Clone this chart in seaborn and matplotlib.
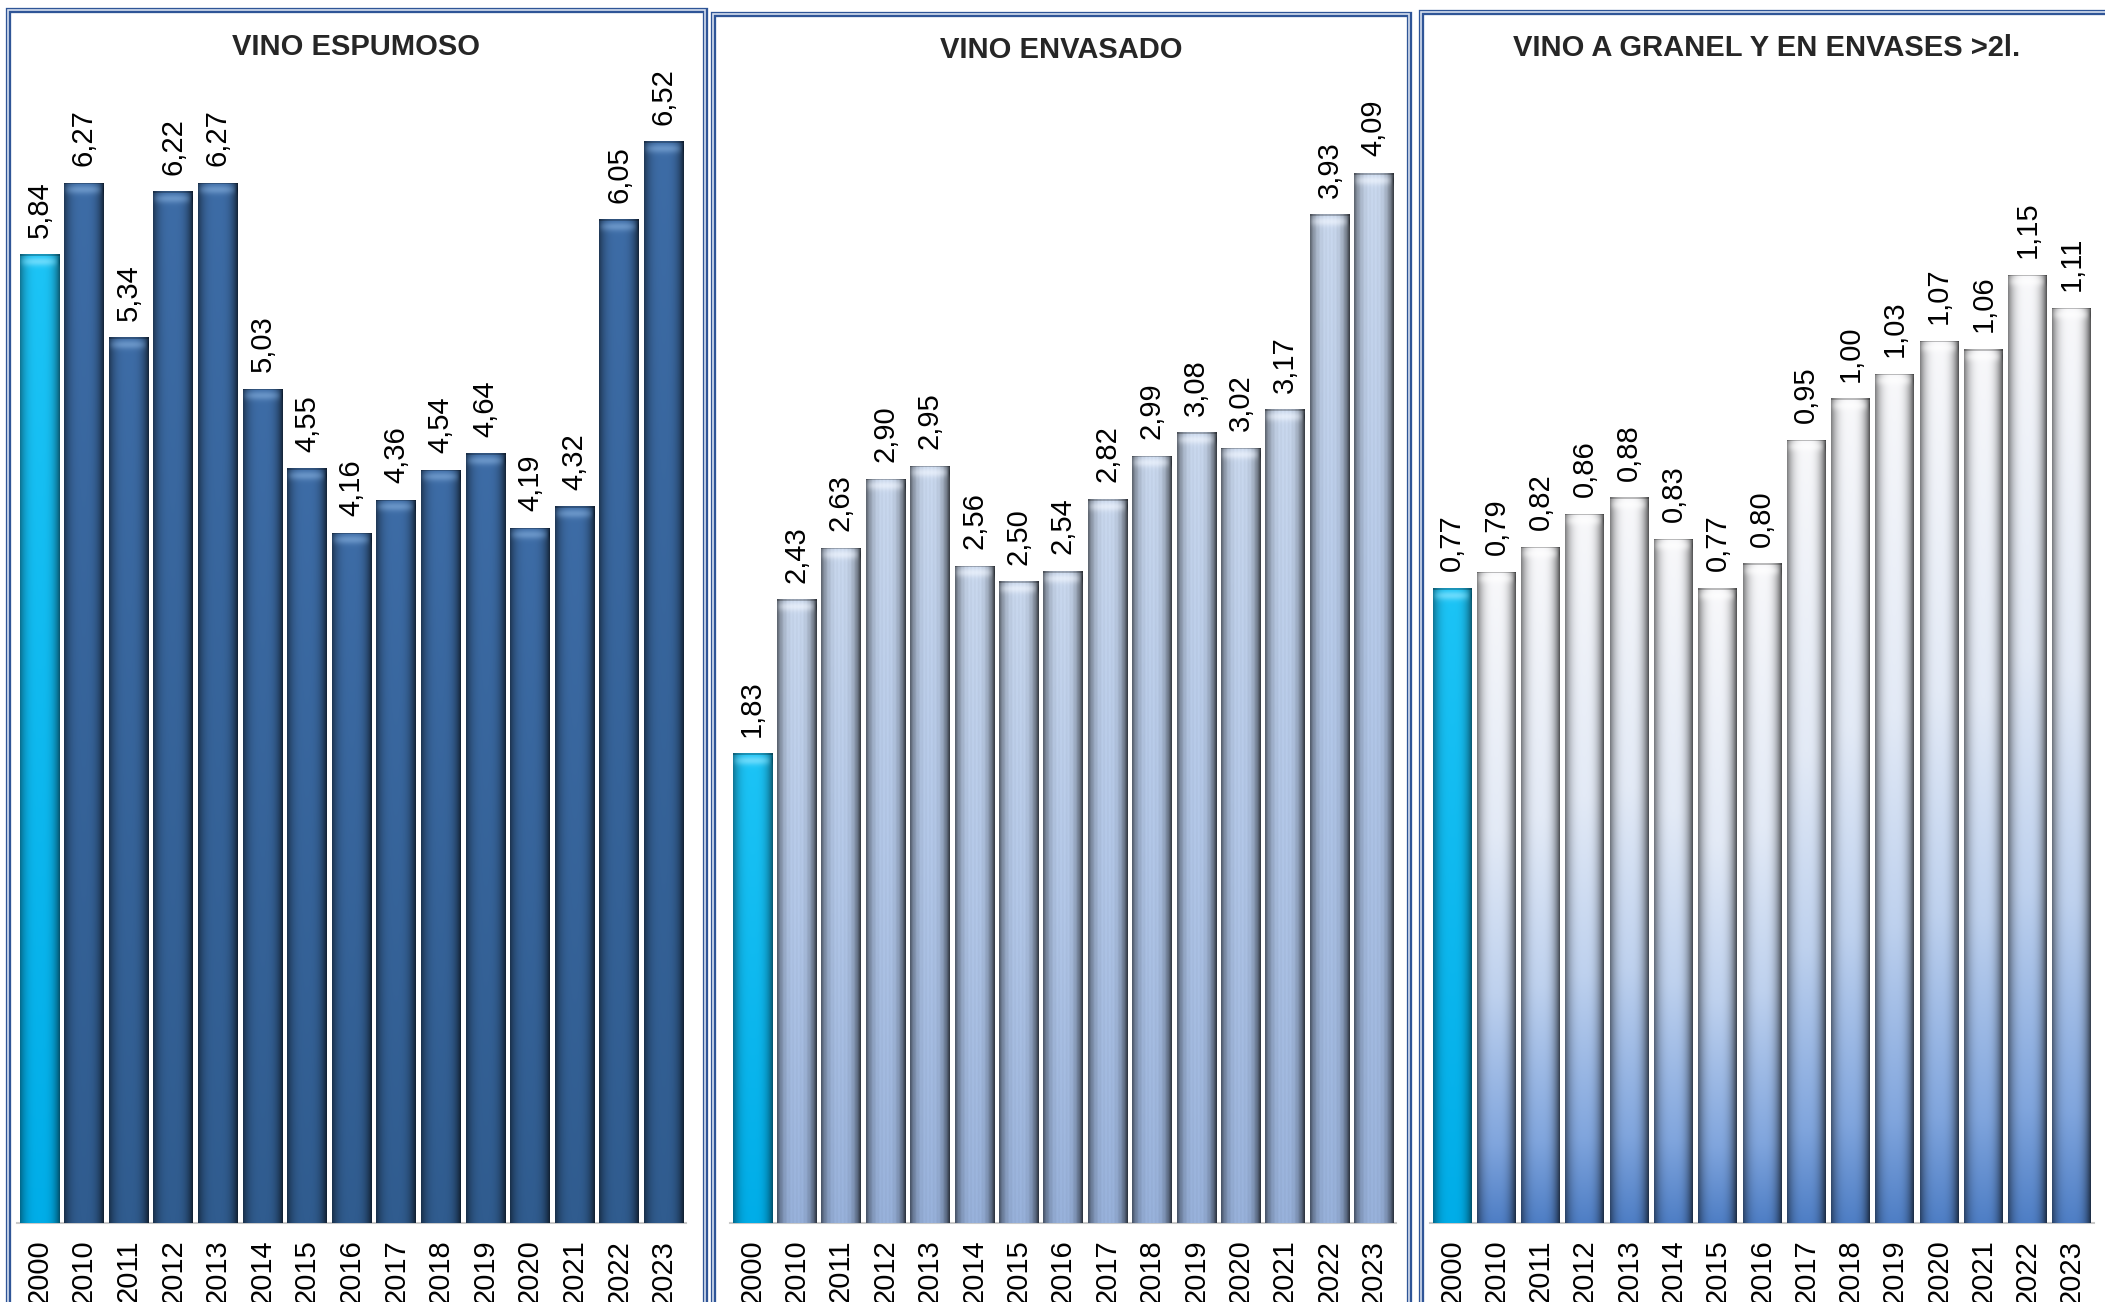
import numpy as np
import matplotlib
matplotlib.use("Agg")
import matplotlib.pyplot as plt
import seaborn as sns
from matplotlib.patches import Rectangle
from matplotlib.colors import to_rgb
from matplotlib import font_manager

# ── data ─────────────────────────────────────────────────────
years = ["2000", "2010", "2011", "2012", "2013", "2014", "2015", "2016",
         "2017", "2018", "2019", "2020", "2021", "2022", "2023"]
espumoso = [5.84, 6.27, 5.34, 6.22, 6.27, 5.03, 4.55, 4.16, 4.36, 4.54,
            4.64, 4.19, 4.32, 6.05, 6.52]
envasado = [1.83, 2.43, 2.63, 2.90, 2.95, 2.56, 2.50, 2.54, 2.82, 2.99,
            3.08, 3.02, 3.17, 3.93, 4.09]
granel = [0.77, 0.79, 0.82, 0.86, 0.88, 0.83, 0.77, 0.80, 0.95, 1.00,
          1.03, 1.07, 1.06, 1.15, 1.11]
titles = ["VINO ESPUMOSO", "VINO ENVASADO", "VINO A GRANEL Y EN ENVASES >2l."]

sns.set_theme(style="white")
plt.rcParams["font.family"] = ["DejaVu Sans"]

# narrow face for the numbers if there is one (reference uses a Tahoma-like font)
names = {f.name for f in font_manager.fontManager.ttflist}
num_family = "DejaVu Sans Condensed" if "DejaVu Sans Condensed" in names else "Liberation Sans"
num_size = 21
title_family = "Liberation Sans Narrow" if "Liberation Sans Narrow" in names else "Liberation Sans"

W, H = 2105, 1302
fig = plt.figure(figsize=(W / 100, H / 100), dpi=100)
fig.patch.set_facecolor("white")

# ── bar looks (gradient stops top -> bottom, cap highlight) ──
cyan = {"stops": [(0, "#1CC4F6"), (1, "#00ADE8")], "cap": "#8FE6FF", "dark": 0.45, "stripes": 0}
styles = [
    {"stops": [(0, "#3D6CA6"), (1, "#305C8F")], "cap": "#7FA9D8", "dark": 0.55, "stripes": 0},
    {"stops": [(0, "#CCDBF1"), (0.5, "#B5CAEB"), (1, "#9AB4DE")], "cap": "#F2F7FF", "dark": 0.6, "stripes": 0.05},
    {"stops": [(0, "#F8F8FA"), (0.4, "#E3EAF6"), (0.65, "#BED1EE"), (0.88, "#80A5DD"), (1, "#4E7EC5")],
     "cap": "#FFFFFF", "dark": 0.55, "stripes": 0},
]


def bar_image(style, h_px, w_px):
    ny = max(int(h_px), 2)
    nx = max(int(w_px), 2)
    v = np.linspace(0, 1, ny)
    u = np.linspace(0, 1, nx)
    pos = [s[0] for s in style["stops"]]
    cols = np.array([to_rgb(s[1]) for s in style["stops"]])
    body = np.stack([np.interp(v, pos, cols[:, k]) for k in range(3)], axis=1)  # ny x 3
    img = np.repeat(body[:, None, :], nx, axis=1)
    # cylinder shading, a bit darker on the right side
    e = np.abs(2 * u - 1) ** 3
    e = e * np.where(u > 0.5, 1.15, 0.85)
    shade = 1 - style["dark"] * e
    if style["stripes"]:
        shade = shade * (1 - style["stripes"] * (0.5 + 0.5 * np.sin(u * nx * 1.7)))
    img = img * shade[None, :, None]
    # light bevel at the top of each bar
    ypx = np.arange(ny)
    cap = np.exp(-((ypx - 7) / 4.5) ** 2)[:, None] * (1 - e)[None, :] * 0.65
    img = img * (1 - cap[..., None]) + np.array(to_rgb(style["cap"]))[None, None, :] * cap[..., None]
    img[:2, :, :] *= 0.75
    return np.clip(img, 0, 1)


# ── layout of the three panels (figure pixels) ──────────────
panels = [
    {"vals": espumoso, "ax": (17, 686), "box": (8, 705, 10), "ymax": 6.77, "ty": 47},
    {"vals": envasado, "ax": (730, 1396), "box": (713, 1409, 14), "ymax": 4.375, "ty": 50},
    {"vals": granel, "ax": (1430, 2094), "box": (1421, 2112, 12), "ymax": 1.362, "ty": 48},
]
base_y, top_y = 1223, 100

for i, p in enumerate(panels):
    x0, x1 = p["ax"]
    ax = fig.add_axes([x0 / W, 1 - base_y / H, (x1 - x0) / W, (base_y - top_y) / H])
    ax.set_facecolor("none")
    sns.barplot(x=years, y=p["vals"], ax=ax, color=styles[i]["stops"][0][1],
                width=0.88, saturation=1, edgecolor="none", linewidth=0)
    ax.set_xlim(-0.5, len(years) - 0.5)
    ax.set_ylim(0, p["ymax"])
    px_per_unit = (base_y - top_y) / p["ymax"]
    px_per_cat = (x1 - x0) / len(years)

    for j, patch in enumerate(ax.patches):
        bx, bw, bh = patch.get_x(), patch.get_width(), patch.get_height()
        st = cyan if j == 0 else styles[i]
        img = bar_image(st, bh * px_per_unit, bw * px_per_cat)
        im = ax.imshow(img, extent=[bx, bx + bw, 0, bh], origin="upper",
                       aspect="auto", interpolation="bilinear", zorder=3)
        im.set_clip_path(patch)
        ax.annotate(f"{p['vals'][j]:.2f}".replace(".", ","),
                    (bx + bw / 2, bh), xytext=(0, 12), textcoords="offset points",
                    rotation=90, ha="center", va="bottom", family=num_family,
                    fontsize=num_size, color="black", zorder=5)

    ax.set_xlim(-0.5, len(years) - 0.5)
    ax.set_ylim(0, p["ymax"])
    ax.set_aspect("auto")
    ax.set_yticks([])
    ax.set_ylabel("")
    ax.set_xticks(range(len(years)))
    ax.set_xticklabels(years, rotation=90, family=num_family, fontsize=num_size)
    ax.tick_params(axis="x", length=0, pad=12, colors="black")
    for s in ["top", "left", "right"]:
        ax.spines[s].set_visible(False)
    ax.spines["bottom"].set_color("#C9C9C9")
    ax.spines["bottom"].set_linewidth(1.5)

    # double blue frame around each panel
    bl, br, bt = p["box"]
    for lw, col in [(3.8, "#2F5597"), (1.2, "#D6E0EF")]:
        fig.patches.append(Rectangle((bl / W, -0.05), (br - bl) / W, 1.05 - bt / H,
                                     transform=fig.transFigure, fill=False,
                                     edgecolor=col, linewidth=lw, zorder=0))

    fig.text((bl + br) / 2 / W, 1 - p["ty"] / H, titles[i], ha="center", va="center",
             fontsize=21, fontweight="bold", family=[title_family, "DejaVu Sans"])

fig.savefig("out.png", dpi=100, facecolor="white")
